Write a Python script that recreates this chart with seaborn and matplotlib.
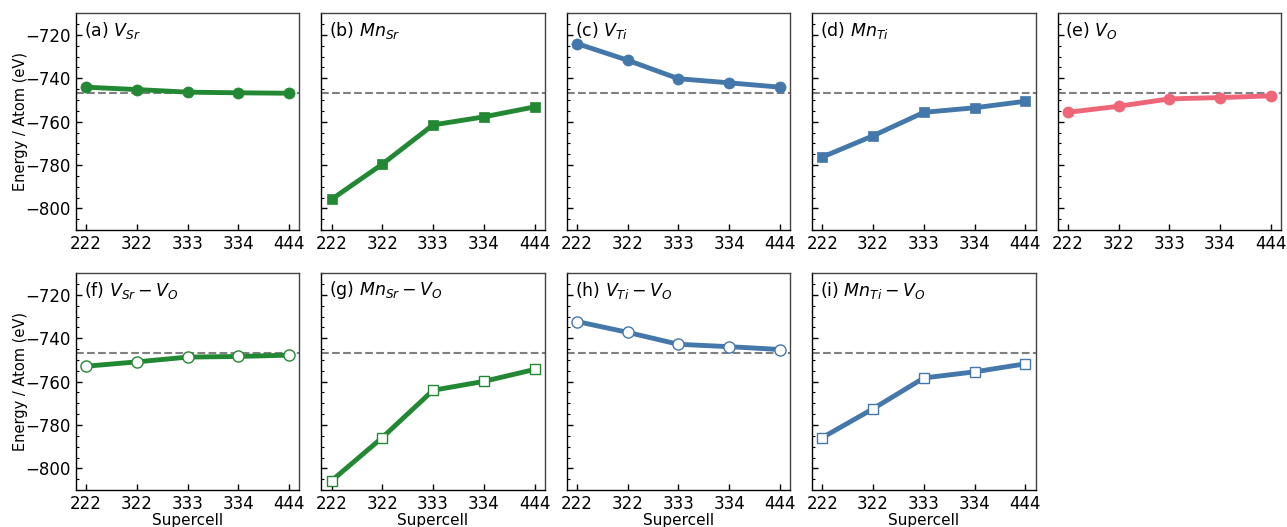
import matplotlib
matplotlib.use("Agg")
import matplotlib.pyplot as plt
import seaborn as sns
import numpy as np
import pandas as pd
from matplotlib.ticker import MultipleLocator

sns.set_style("ticks")
plt.rcParams['font.family'] = ['DejaVu Sans']
plt.rcParams['text.color'] = 'black'
plt.rcParams['axes.labelcolor'] = 'black'
plt.rcParams['xtick.color'] = 'black'
plt.rcParams['ytick.color'] = 'black'

supercells = ["222", "322", "333", "334", "444"]
reference_energy = -747.0

labels = [r"(a) $V_{Sr}$", r"(b) $Mn_{Sr}$", r"(c) $V_{Ti}$", r"(d) $Mn_{Ti}$", r"(e) $V_{O}$",
          r"(f) $V_{Sr} - V_{O}$", r"(g) $Mn_{Sr} - V_{O}$", r"(h) $V_{Ti} - V_{O}$", r"(i) $Mn_{Ti} - V_{O}$"]

v_sr = [-744.1, -745.2, -746.4, -746.7, -746.9]
mn_sr = [-795.8, -779.6, -761.5, -757.8, -753.2]
v_ti = [-724.0, -731.7, -740.2, -742.1, -744.1]
mn_ti = [-776.3, -766.5, -755.7, -753.6, -750.6]
v_o = [-755.7, -752.9, -749.5, -748.9, -748.1]
v_sr_v_o = [-752.9, -750.9, -748.7, -748.4, -747.8]
mn_sr_v_o = [-805.7, -785.8, -764.0, -759.9, -754.4]
v_ti_v_o = [-732.3, -737.3, -742.8, -743.9, -745.2]
mn_ti_v_o = [-785.8, -772.5, -758.3, -755.5, -751.8]

series = [v_sr, mn_sr, v_ti, mn_ti, v_o, v_sr_v_o, mn_sr_v_o, v_ti_v_o, mn_ti_v_o]
green, blue, pink = "#228833", "#4477AA", "#EE6677"
colors = [green, green, blue, blue, pink, green, green, blue, blue]
markers = ["o", "s", "o", "s", "o", "o", "s", "o", "s"]
filled = [True] * 5 + [False] * 4

fig, axes = plt.subplots(2, 5, figsize=(12.87, 5.27), dpi=100, sharey=True)
fig.subplots_adjust(left=0.059, right=0.9953, top=0.975, bottom=0.070, wspace=0.099, hspace=0.198)

xpos = np.arange(len(supercells))
for i, ax in enumerate(axes.flat):
    if i >= len(series):
        ax.set_visible(False)
        continue
    df = pd.DataFrame({"x": xpos, "y": series[i]})
    c = colors[i]
    sns.lineplot(data=df, x="x", y="y", ax=ax, color=c, linewidth=3.5,
                 marker=markers[i], markersize=8 if markers[i] == "o" else 7.5,
                 markerfacecolor=c if filled[i] else "white",
                 markeredgecolor=c,
                 markeredgewidth=1.0 if not filled[i] else 0.5)
    ax.axhline(reference_energy, color="gray", linestyle="--", linewidth=1.5, zorder=0)
    ax.set_xlim(-0.2, 4.2)
    ax.set_ylim(-810, -710)
    ax.set_xticks(xpos)
    ax.set_xticklabels(supercells)
    ax.yaxis.set_major_locator(MultipleLocator(20))
    ax.yaxis.set_minor_locator(MultipleLocator(5))
    ax.tick_params(axis="both", which="major", direction="in", length=4, width=1, labelsize=12,
                   top=False, right=False, colors="black")
    ax.tick_params(axis="y", which="minor", direction="in", length=2, width=0.8, right=False, colors="black")
    ax.tick_params(axis="y", which="both", labelleft=(i % 5 == 0))
    for s in ["left", "bottom"]:
        ax.spines[s].set_color("black")
        ax.spines[s].set_linewidth(1.0)
    for s in ["top", "right"]:
        ax.spines[s].set_visible(True)
        ax.spines[s].set_color("#444444")
        ax.spines[s].set_linewidth(1.0)
    ax.set_xlabel("Supercell" if i >= 5 else "", fontsize=11, labelpad=0)
    ax.set_ylabel("Energy / Atom (eV)" if i % 5 == 0 else "", fontsize=10.5, labelpad=-2)
    ax.text(0.035, 0.92, labels[i], transform=ax.transAxes, fontsize=12.5, ha="left", va="center")
    ax.grid(False)

fig.savefig("out.png", dpi=100)
